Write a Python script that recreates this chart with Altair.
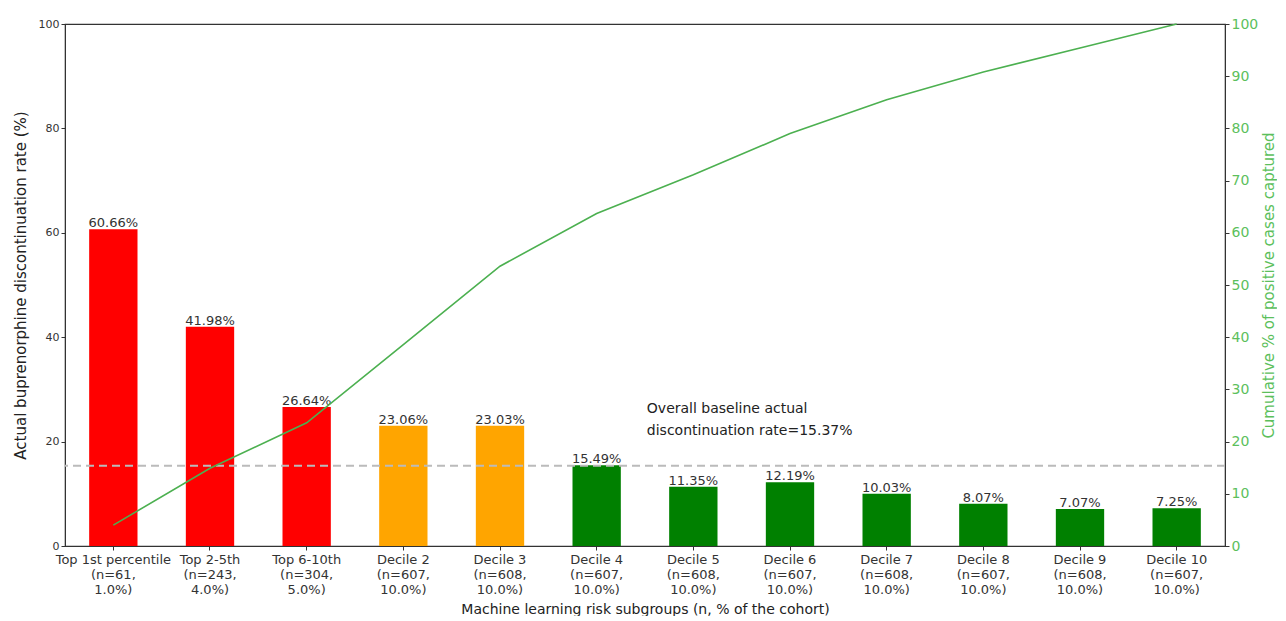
import altair as alt
import pandas as pd

groups = ["Top 1st percentile", "Top 2-5th", "Top 6-10th", "Decile 2", "Decile 3",
          "Decile 4", "Decile 5", "Decile 6", "Decile 7", "Decile 8", "Decile 9", "Decile 10"]
n_vals = [61, 243, 304, 607, 608, 607, 608, 607, 608, 607, 608, 607]
pct_cohort = ["1.0%", "4.0%", "5.0%", "10.0%", "10.0%", "10.0%", "10.0%", "10.0%",
              "10.0%", "10.0%", "10.0%", "10.0%"]
rates = [60.66, 41.98, 26.64, 23.06, 23.03, 15.49, 11.35, 12.19, 10.03, 8.07, 7.07, 7.25]
cumulative = [4.0, 14.9, 23.6, 38.6, 53.6, 63.7, 71.1, 79.0, 85.5, 90.8, 95.4, 100.0]
tiers = ["high", "high", "high", "mid", "mid", "low", "low", "low", "low", "low", "low", "low"]
baseline = 15.37
annotation = "Overall baseline actual\ndiscontinuation rate=15.37%"
annotation_y = 26.2

cats = [f"{g}\n(n={n},\n{p})" for g, n, p in zip(groups, n_vals, pct_cohort)]
df = pd.DataFrame({
    "cat": cats,
    "rate": rates,
    "label": [f"{r:.2f}%" for r in rates],
    "cum": cumulative,
    "tier": tiers,
})

FONT = "DejaVu Sans"
GREEN_LINE = "#4cb050"
GREEN_TEXT = "#5cbf5c"

xscale = alt.Scale(domain=cats, paddingInner=0.5, paddingOuter=0.25)
yscale = alt.Scale(domain=[0, 100], nice=False)

x_enc = alt.X("cat:N", sort=cats, scale=xscale,
              axis=alt.Axis(title="Machine learning risk subgroups (n, % of the cohort)",
                            labelAngle=0, labelExpr="split(datum.label, '\\n')",
                            labelFontSize=13, labelLineHeight=15, labelColor="#333",
                            titleFontSize=14, titleFontWeight="normal", titleColor="#222",
                            titlePadding=6, tickSize=4, labelPadding=3,
                            domainColor="#333", tickColor="#333"))

base = alt.Chart(df)

bars = base.mark_bar().encode(
    x=x_enc,
    y=alt.Y("rate:Q", scale=yscale,
            axis=alt.Axis(title="Actual buprenorphine discontinuation rate (%)",
                          values=[0, 20, 40, 60, 80, 100], grid=False,
                          labelFontSize=11, labelColor="#333", titleFontSize=15,
                          titleFontWeight="normal", titleColor="#222", titlePadding=10,
                          tickSize=4, domainColor="#333", tickColor="#333")),
    color=alt.Color("tier:N", scale=alt.Scale(domain=["high", "mid", "low"],
                                               range=["#ff0000", "#ffa500", "#008000"]),
                    legend=None),
)

bar_labels = base.mark_text(baseline="bottom", fontSize=13, color="#333", font=FONT, dy=1).encode(
    x=alt.X("cat:N", sort=cats, scale=xscale),
    y=alt.Y("rate:Q", scale=yscale),
    text="label:N",
)

rule = alt.Chart(pd.DataFrame({"v": [baseline]})).mark_rule(
    color="#bbbbbb", strokeWidth=2, strokeDash=[8, 5]
).encode(y=alt.Y("v:Q", scale=yscale))

annot_df = pd.DataFrame({"cat": [cats[5]], "y": [annotation_y], "t": [annotation]})
annot = alt.Chart(annot_df).mark_text(
    align="left", baseline="middle", lineBreak="\n", lineHeight=22,
    fontSize=14, color="#222", font=FONT, dx=26
).encode(
    x=alt.X("cat:N", sort=cats, scale=xscale, bandPosition=1),
    y=alt.Y("y:Q", scale=yscale),
    text="t:N",
)

left = alt.layer(bars, bar_labels, rule, annot)

line = base.mark_line(color=GREEN_LINE, strokeWidth=1.6).encode(
    x=alt.X("cat:N", sort=cats, scale=xscale),
    y=alt.Y("cum:Q", scale=alt.Scale(domain=[0, 100], nice=False),
            axis=alt.Axis(orient="right", title="Cumulative % of positive cases captured",
                          values=list(range(0, 101, 10)), grid=False,
                          labelFontSize=14, labelColor=GREEN_TEXT, titleFontSize=15,
                          titleFontWeight="normal", titleColor=GREEN_TEXT, titlePadding=4,
                          titleAngle=270, titleBaseline="top",
                          tickSize=4, labelPadding=2, domainColor="#333", tickColor="#333")),
)

chart = alt.layer(left, line).resolve_scale(y="independent").properties(
    width=1160, height=522,
    padding={"left": 5, "top": 9, "right": 0, "bottom": 0},
).configure(font=FONT).configure_view(stroke="#333", strokeWidth=1.2)

chart.save("out.html", embed_options={"renderer": "svg", "actions": False})
